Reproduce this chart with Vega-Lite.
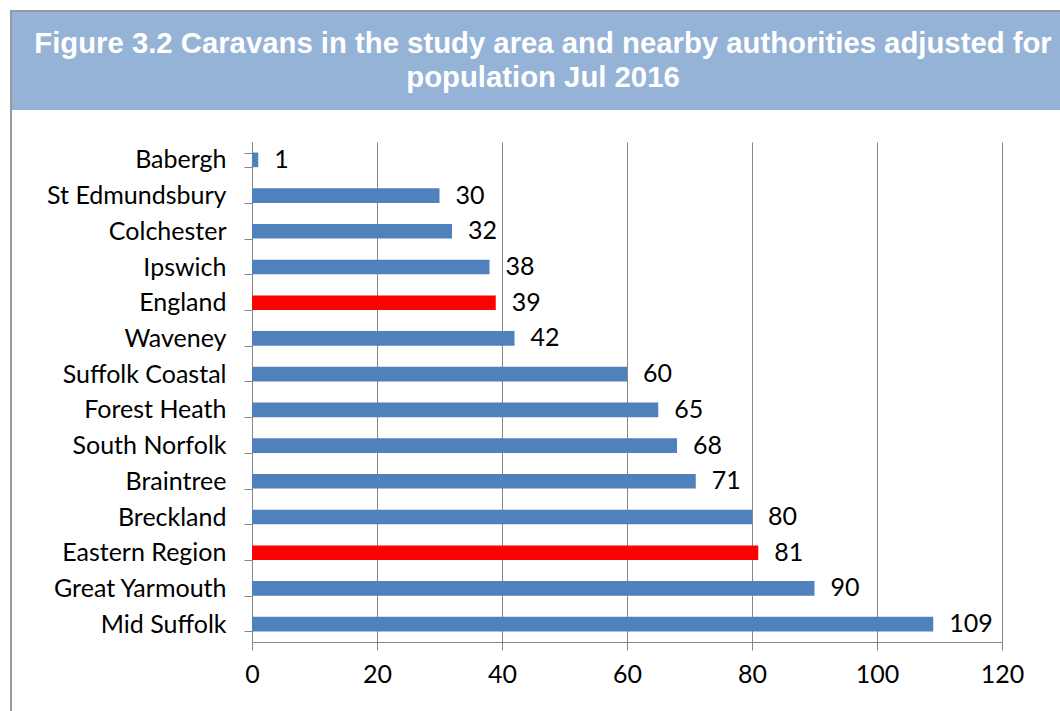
{
  "$schema": "https://vega.github.io/schema/vega-lite/v6.json",
  "padding": {"left": 10, "top": 10, "right": 0, "bottom": 0},
  "background": "white",
  "spacing": 0,
  "config": {"view": {"stroke": null}, "font": "Lato"},
  "hconcat": [
    {
      "width": 2,
      "height": 701,
      "view": {"fill": "#999999", "stroke": null},
      "data": {"values": [{"t": ""}]},
      "mark": {"type": "text", "fontSize": 0.1},
      "encoding": {"text": {"field": "t", "type": "nominal"}}
    },
    {
      "spacing": 0,
      "vconcat": [
        {
          "width": 1048,
          "height": 2,
          "view": {"fill": "#999999", "stroke": null},
          "data": {"values": [{"t": ""}]},
          "mark": {"type": "text", "fontSize": 0.1},
          "encoding": {"text": {"field": "t", "type": "nominal"}}
        },
        {
          "spacing": 20,
          "vconcat": [
            {
              "width": 1048,
              "height": 98,
              "view": {"fill": "#95B3D7", "stroke": null},
              "data": {"values": [{"title": "Figure 3.2 Caravans in the study area and nearby authorities adjusted for\npopulation Jul 2016"}]},
              "mark": {"type": "text", "font": "Liberation Sans", "fontWeight": "bold", "fontSize": 29.3, "color": "white", "lineBreak": "\n", "lineHeight": 34, "dx": 7, "dy": -8, "baseline": "alphabetic", "align": "center"},
              "encoding": {"text": {"field": "title", "type": "nominal"}}
            },
            {
              "spacing": 0,
              "hconcat": [
                {
                  "width": 1,
                  "height": 500,
                  "data": {"values": [{"t": ""}]},
                  "mark": {"type": "text", "fontSize": 0.1},
                  "encoding": {"text": {"field": "t", "type": "nominal"}}
                },
                {
                  "width": 750,
                  "height": 500,
                  "data": {"values": [
                    {"area": "Babergh", "value": 1, "kind": "authority"},
                    {"area": "St Edmundsbury", "value": 30, "kind": "authority"},
                    {"area": "Colchester", "value": 32, "kind": "authority"},
                    {"area": "Ipswich", "value": 38, "kind": "authority"},
                    {"area": "England", "value": 39, "kind": "comparison"},
                    {"area": "Waveney", "value": 42, "kind": "authority"},
                    {"area": "Suffolk Coastal", "value": 60, "kind": "authority"},
                    {"area": "Forest Heath", "value": 65, "kind": "authority"},
                    {"area": "South Norfolk", "value": 68, "kind": "authority"},
                    {"area": "Braintree", "value": 71, "kind": "authority"},
                    {"area": "Breckland", "value": 80, "kind": "authority"},
                    {"area": "Eastern Region", "value": 81, "kind": "comparison"},
                    {"area": "Great Yarmouth", "value": 90, "kind": "authority"},
                    {"area": "Mid Suffolk", "value": 109, "kind": "authority"}
                  ]},
                  "layer": [
                    {
                      "mark": {"type": "bar"},
                      "encoding": {
                        "y": {
                          "field": "area", "type": "nominal", "sort": null,
                          "scale": {"paddingInner": 0.59, "paddingOuter": 0.295},
                          "axis": {"title": null, "tickBand": "extent", "labelFont": "Lato", "labelFontSize": 25, "labelColor": "black", "labelPadding": 18, "tickSize": 8, "tickColor": "#868686", "domainColor": "#868686", "minExtent": 239, "grid": false}
                        },
                        "x": {
                          "field": "value", "type": "quantitative",
                          "scale": {"domain": [0, 120], "nice": false},
                          "axis": {"title": null, "values": [0, 20, 40, 60, 80, 100, 120], "grid": true, "gridColor": "#868686", "tickSize": 8, "labelPadding": 12, "labelFont": "Lato", "labelFontSize": 25, "labelColor": "black", "domainColor": "#868686", "tickColor": "#868686", "labelFlush": false}
                        },
                        "color": {
                          "field": "kind", "type": "nominal",
                          "scale": {"domain": ["authority", "comparison"], "range": ["#4F81BD", "#FF0000"]},
                          "legend": null
                        }
                      }
                    },
                    {
                      "mark": {"type": "text", "align": "left", "baseline": "middle", "dx": 16, "font": "Lato", "fontSize": 25, "color": "black"},
                      "encoding": {
                        "y": {"field": "area", "type": "nominal", "sort": null},
                        "x": {"field": "value", "type": "quantitative"},
                        "text": {"field": "value", "type": "quantitative"}
                      }
                    }
                  ]
                }
              ]
            }
          ]
        }
      ]
    }
  ]
}
